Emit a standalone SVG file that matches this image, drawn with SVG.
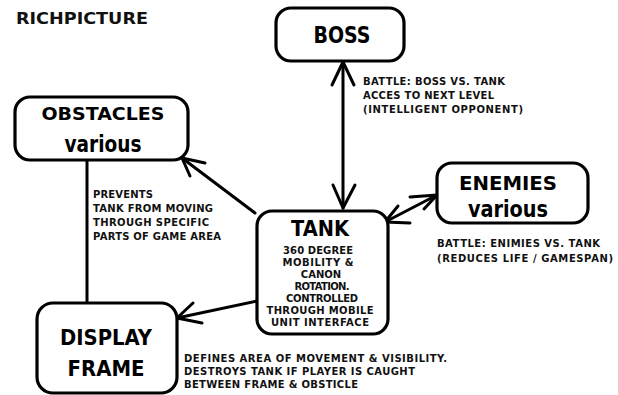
<svg xmlns="http://www.w3.org/2000/svg" width="618" height="395" viewBox="0 0 618 395">
<style>
.box{fill:#fff;stroke:#000;stroke-width:3.2}
.con{fill:none;stroke:#000;stroke-width:3;stroke-linecap:round;stroke-linejoin:round}
.hd{font-family:"DejaVu Sans","Liberation Sans",sans-serif;font-weight:bold;text-anchor:middle;fill:#000}
.lb{font-family:"DejaVu Sans","Liberation Sans",sans-serif;font-weight:bold;font-size:10px;fill:#111}
.tb{font-family:"DejaVu Sans","Liberation Sans",sans-serif;font-weight:bold;font-size:10px;fill:#111;text-anchor:middle}
</style>
<rect width="618" height="395" fill="#fff"/>
<text class="lb" x="16" y="24" textLength="132" lengthAdjust="spacingAndGlyphs" style="font-size:15px">RICHPICTURE</text>
<g id="connectors">
  <line class="con" x1="87" y1="160" x2="87" y2="303"/>
  <line class="con" x1="343" y1="62" x2="343" y2="208"/>
  <polyline class="con" points="332,85 343,62 354,85"/>
  <polyline class="con" points="333,185 343,208 355,185"/>
  <line class="con" x1="255" y1="213" x2="182" y2="158"/>
  <polyline class="con" points="205,163 182,158 190,176"/>
  <line class="con" x1="385" y1="222" x2="437" y2="195"/>
  <polyline class="con" points="410,197 437,195 424,209"/>
  <polyline class="con" points="398,206 385,222 410,223"/>
  <line class="con" x1="257" y1="301" x2="177" y2="318"/>
  <polyline class="con" points="193,303 177,318 202,323"/>
</g>
<g id="boss">
  <rect class="box" x="276" y="8" width="128" height="53" rx="15"/>
  <text class="hd" x="342" y="43" font-size="23" textLength="57" lengthAdjust="spacingAndGlyphs">BOSS</text>
</g>
<g id="obstacles">
  <rect class="box" x="15" y="97" width="173" height="63" rx="15"/>
  <text class="hd" x="103" y="120" font-size="18" textLength="123" lengthAdjust="spacingAndGlyphs">OBSTACLES</text>
  <text class="hd" x="103" y="152" font-size="23" textLength="77" lengthAdjust="spacingAndGlyphs">various</text>
</g>
<g id="enemies">
  <rect class="box" x="437" y="163" width="151" height="60" rx="15"/>
  <text class="hd" x="508" y="190" font-size="20" textLength="98" lengthAdjust="spacingAndGlyphs">ENEMIES</text>
  <text class="hd" x="508" y="217" font-size="23" textLength="80" lengthAdjust="spacingAndGlyphs">various</text>
</g>
<g id="tank">
  <rect class="box" x="257" y="211" width="131" height="123" rx="15"/>
  <text class="hd" x="320" y="236" font-size="21" textLength="58" lengthAdjust="spacingAndGlyphs">TANK</text>
  <text class="tb" x="318" y="254" textLength="70" lengthAdjust="spacing">360 DEGREE</text>
  <text class="tb" x="318" y="266" textLength="71" lengthAdjust="spacing">MOBILITY &amp;</text>
  <text class="tb" x="321" y="278">CANON</text>
  <text class="tb" x="322" y="290" textLength="55" lengthAdjust="spacing">ROTATION.</text>
  <text class="tb" x="322" y="302" textLength="72" lengthAdjust="spacing">CONTROLLED</text>
  <text class="tb" x="320" y="314" textLength="107" lengthAdjust="spacing">THROUGH MOBILE</text>
  <text class="tb" x="320" y="326" textLength="98" lengthAdjust="spacing">UNIT INTERFACE</text>
</g>
<g id="display">
  <rect class="box" x="37" y="303" width="140" height="90" rx="16"/>
  <text class="hd" x="106" y="345" font-size="22" textLength="92" lengthAdjust="spacingAndGlyphs">DISPLAY</text>
  <text class="hd" x="106" y="376" font-size="22" textLength="77" lengthAdjust="spacingAndGlyphs">FRAME</text>
</g>
<g id="labels">
  <text class="lb" x="363" y="85" textLength="142" lengthAdjust="spacing">BATTLE: BOSS VS. TANK</text>
  <text class="lb" x="363" y="99" textLength="131" lengthAdjust="spacing">ACCES TO NEXT LEVEL</text>
  <text class="lb" x="363" y="113" textLength="160" lengthAdjust="spacing">(INTELLIGENT OPPONENT)</text>
  <text class="lb" x="93" y="198" textLength="60" lengthAdjust="spacing">PREVENTS</text>
  <text class="lb" x="93" y="212" textLength="120" lengthAdjust="spacing">TANK FROM MOVING</text>
  <text class="lb" x="93" y="226" textLength="116" lengthAdjust="spacing">THROUGH SPECIFIC</text>
  <text class="lb" x="93" y="240" textLength="128" lengthAdjust="spacing">PARTS OF GAME AREA</text>
  <text class="lb" x="437" y="247" textLength="163" lengthAdjust="spacing">BATTLE: ENIMIES VS. TANK</text>
  <text class="lb" x="437" y="262" textLength="176" lengthAdjust="spacing">(REDUCES LIFE / GAMESPAN)</text>
  <text class="lb" x="184" y="362" textLength="263" lengthAdjust="spacing">DEFINES AREA OF MOVEMENT &amp; VISIBILITY.</text>
  <text class="lb" x="184" y="375" textLength="231" lengthAdjust="spacing">DESTROYS TANK IF PLAYER IS CAUGHT</text>
  <text class="lb" x="184" y="388" textLength="174" lengthAdjust="spacing">BETWEEN FRAME &amp; OBSTICLE</text>
</g>
</svg>
